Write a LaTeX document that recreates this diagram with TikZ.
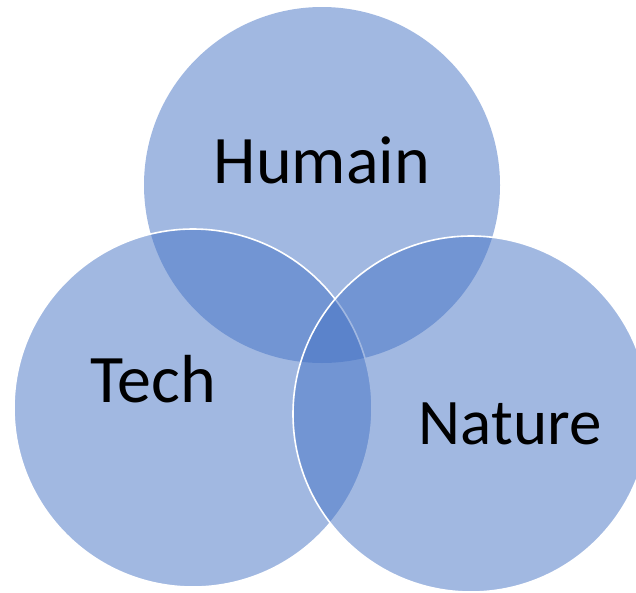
\documentclass[tikz,border=0pt]{standalone}
\usepackage{fontspec}
\setmainfont{Carlito}
\definecolor{venn}{HTML}{4472C4}
\begin{document}
\begin{tikzpicture}[x=1pt,y=-1pt,
  vcircle/.style={fill=venn,fill opacity=0.5},
  vedge/.style={draw=white,line width=1.6pt},
  lbl/.style={anchor=base,inner sep=0pt,font=\fontsize{68}{80}\selectfont,text=black}]
\useasboundingbox (0,0) rectangle (636,592);
\clip (0,0) rectangle (636,592);
\fill[vcircle] (322,185) circle (178);
\fill[vcircle] (193,408) circle (179);
\draw[vedge] (193,408) circle (179);
\fill[vcircle] (471,414) circle (178);
\draw[vedge] (471,414) circle (178);
\node[lbl] (humain) at (322,183) {Humain};
\node[lbl] (tech) at (153,402) {Tech};
\node[lbl,font=\fontsize{65}{78}\selectfont] (nature) at (510,444) {Nature};
\end{tikzpicture}
\end{document}
